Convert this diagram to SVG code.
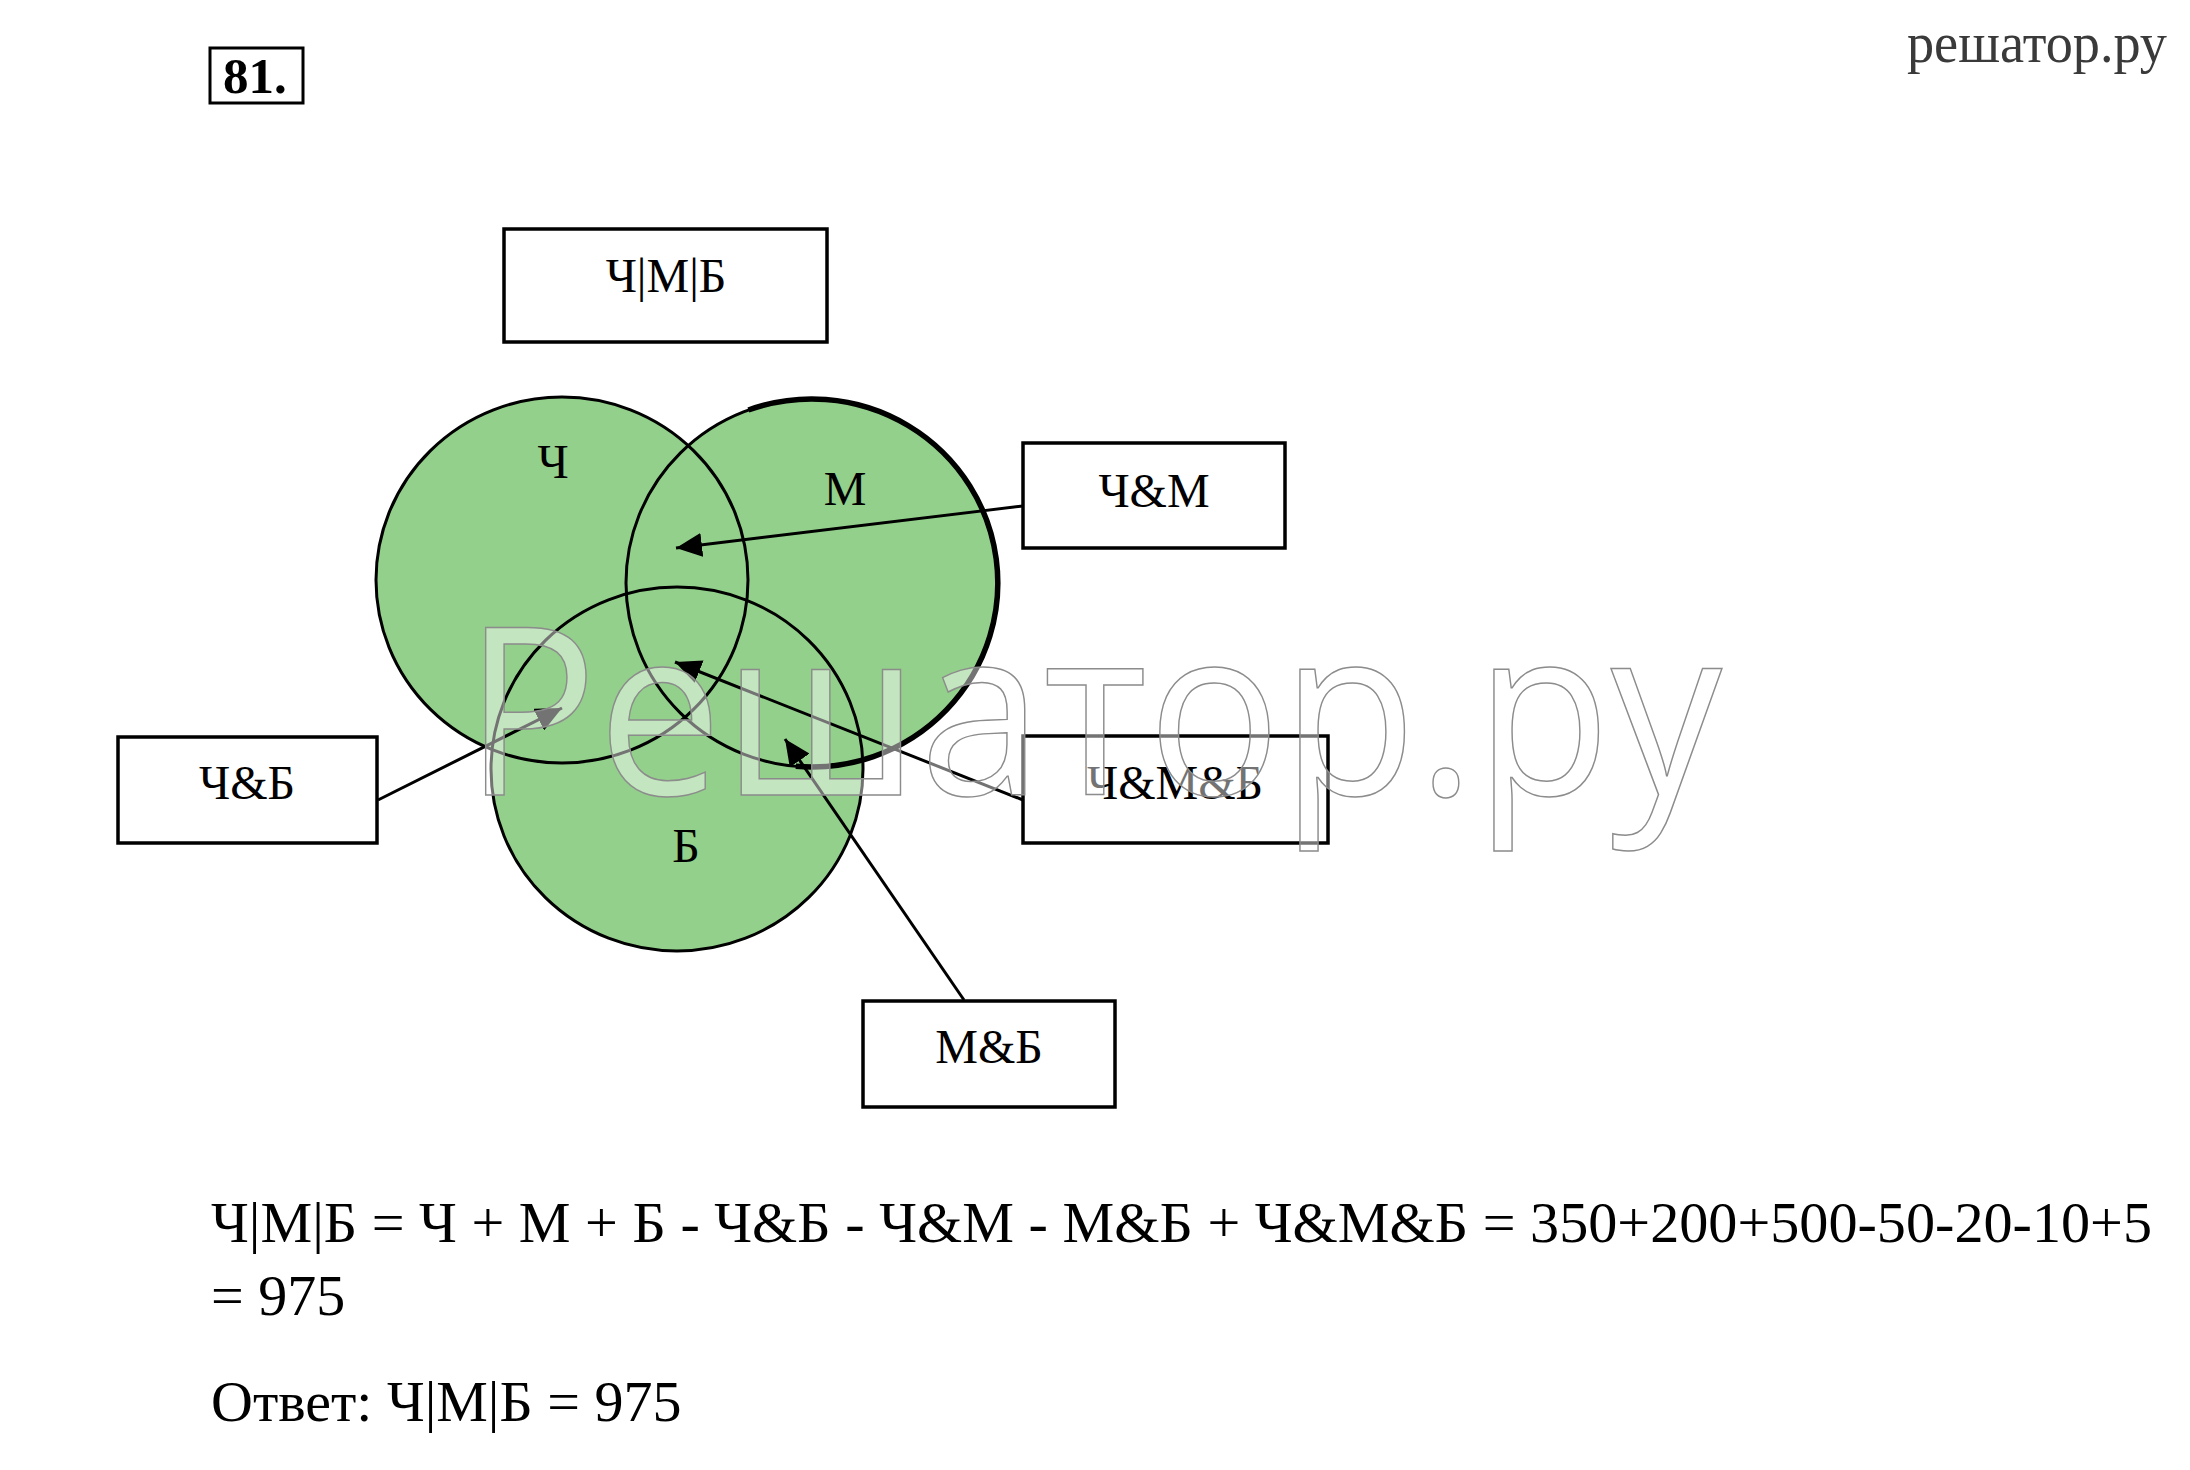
<svg xmlns="http://www.w3.org/2000/svg" width="2190" height="1470" viewBox="0 0 2190 1470">
<style>
.serif{font-family:"Liberation Serif","Times New Roman",serif;fill:#000}
.box{fill:#fff;stroke:#000;stroke-width:3.5}
.lbl{font-size:48px;text-anchor:middle}
.set{fill:#93d08b;stroke:none}
.ring{fill:none;stroke:#000;stroke-width:3}
.conn{stroke:#000;stroke-width:3;fill:none}
.formula{font-size:58px}
</style>
<defs>
<marker id="ah" markerUnits="userSpaceOnUse" markerWidth="26" markerHeight="24" refX="26" refY="12" orient="auto">
<path d="M0,0 L26,12 L0,24 z" fill="#000"/>
</marker>
</defs>
<rect width="2190" height="1470" fill="#fff"/>

<g id="num">
<rect x="210" y="48" width="93" height="55" fill="none" stroke="#000" stroke-width="3"/>
<text class="serif" x="223" y="93" font-size="51" font-weight="bold">81.</text>
</g>
<text class="serif" x="1907" y="62" font-size="56" style="fill:#3a3a3a" textLength="260" lengthAdjust="spacingAndGlyphs">решатор.ру</text>

<g id="union">
<rect class="box" x="504" y="229" width="323" height="113"/>
<text class="serif lbl" x="666" y="292">Ч|М|Б</text>
</g>

<g id="sets">
<ellipse class="set" cx="562" cy="580" rx="186" ry="183"/>
<ellipse class="set" cx="812" cy="583" rx="186" ry="184"/>
<ellipse class="set" cx="677" cy="769" rx="186" ry="182"/>
<ellipse class="ring" cx="562" cy="580" rx="186" ry="183"/>
<ellipse class="ring" cx="812" cy="583" rx="186" ry="184"/>
<ellipse class="ring" cx="677" cy="769" rx="186" ry="182"/>
<path d="M 748.4 410 A 186 184 0 1 1 795.8 766.3" fill="none" stroke="#000" stroke-width="5.5"/>
</g>
<g id="setCh"><text class="serif lbl" x="553" y="478">Ч</text></g>
<g id="setM"><text class="serif lbl" x="845" y="505">М</text></g>
<g id="setB"><text class="serif lbl" x="686" y="862">Б</text></g>

<g id="chm">
<rect class="box" x="1023" y="443" width="262" height="105"/>
<text class="serif lbl" x="1154" y="507">Ч&amp;М</text>
</g>
<g id="chmb">
<rect class="box" x="1023" y="736" width="305" height="107"/>
<text class="serif lbl" x="1175" y="799">Ч&amp;М&amp;Б</text>
</g>
<g id="chb">
<rect class="box" x="118" y="737" width="259" height="106"/>
<text class="serif lbl" x="247" y="799">Ч&amp;Б</text>
</g>
<g id="mb">
<rect class="box" x="863" y="1001" width="252" height="106"/>
<text class="serif lbl" x="989" y="1063">М&amp;Б</text>
</g>

<g id="connectors">
<line class="conn" x1="1023" y1="506" x2="676" y2="548" marker-end="url(#ah)"/>
<line class="conn" x1="1023" y1="800" x2="675" y2="662" marker-end="url(#ah)"/>
<line class="conn" x1="378" y1="800" x2="562" y2="708" marker-end="url(#ah)"/>
<line class="conn" x1="964" y1="1000" x2="785" y2="739" stroke-width="2.5" marker-end="url(#ah)"/>
</g>

<text x="464" y="795" font-family="'Open Sans','DejaVu Sans',sans-serif" font-size="235" fill="#fff" fill-opacity="0.45" stroke="#8c8c8c" stroke-width="1.5" textLength="1258" lengthAdjust="spacingAndGlyphs">Решатор.ру</text>

<g id="solution">
<text class="serif formula" x="211" y="1242" textLength="1941" lengthAdjust="spacingAndGlyphs">Ч|М|Б = Ч + М + Б - Ч&amp;Б - Ч&amp;М - М&amp;Б + Ч&amp;М&amp;Б = 350+200+500-50-20-10+5</text>
<text class="serif formula" x="211" y="1315">= 975</text>
<text class="serif formula" x="211" y="1421">Ответ: Ч|М|Б = 975</text>
</g>
</svg>
